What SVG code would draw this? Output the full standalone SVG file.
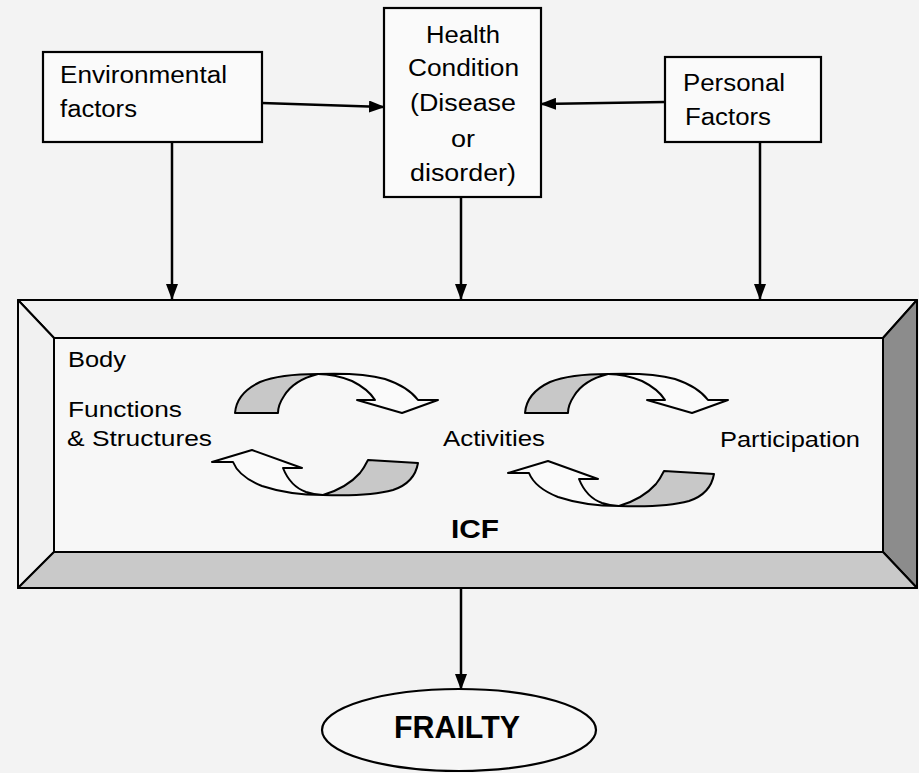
<svg xmlns="http://www.w3.org/2000/svg" width="919" height="773" viewBox="0 0 919 773">
<style>
  .box { fill: #fafafa; stroke: #000; stroke-width: 2.2; }
  .t { font-family: "Liberation Sans", Arial, sans-serif; font-size: 23px; fill: #000; }
  .ti { font-family: "Liberation Sans", Arial, sans-serif; font-size: 21.5px; fill: #000; }
  .tb { font-family: "Liberation Sans", Arial, sans-serif; font-weight: bold; fill: #000; }
  .conn { stroke: #000; stroke-width: 2.5; fill: none; marker-end: url(#ah); }
  .bev { stroke: #000; stroke-width: 2; stroke-linejoin: round; }
  .arw { stroke: #000; stroke-width: 2; stroke-linejoin: round; }
</style>
<defs>
  <marker id="ah" markerUnits="userSpaceOnUse" markerWidth="16" markerHeight="12" refX="15" refY="6" orient="auto">
    <path d="M0,0 L16,6 L0,12 Z" fill="#000"/>
  </marker>
  <g id="topArrow">
    <path class="arw" fill="#fafafa" d="M318,374 C345,373 367,374 385,379 C400,384 412,392 418,400 L438,400 L402,413 L357,400 L375,400 C370,392 362,386 352,381 C342,377 330,374 318,374 Z"/>
    <path class="arw" fill="#c8c8c8" d="M235,413 C236,400 245,389 260,382 C275,376 295,374 318,374 C302,378 290,386 284,396 C280,402 278,408 278,413 Z"/>
  </g>
  <g id="botArrow">
    <path class="arw" fill="#fafafa" d="M323,495 C300,495 280,492 262,486 C247,480 237,472 233,462 L212,462 L252,450 L302,468 L283,468 C287,478 295,488 306,492 C312,494 317,495 323,495 Z"/>
    <path class="arw" fill="#c8c8c8" d="M368,460 L418,463 C416,475 408,485 393,490 C375,495 350,496 323,495 C340,490 352,482 360,473 C364,468 366,464 368,460 Z"/>
  </g>
</defs>
<rect x="0" y="0" width="919" height="773" fill="#f3f3f3"/>

<g id="connectors">
  <line class="conn" x1="262" y1="103" x2="384" y2="107"/>
  <line class="conn" x1="665" y1="102" x2="541" y2="104"/>
  <line class="conn" x1="172" y1="142" x2="172" y2="299"/>
  <line class="conn" x1="461" y1="197" x2="461" y2="299"/>
  <line class="conn" x1="760" y1="142" x2="760" y2="299"/>
  <line class="conn" x1="461" y1="588" x2="461" y2="689"/>
</g>

<g id="env">
  <rect class="box" x="43" y="52" width="219" height="90"/>
  <text class="t" x="60" y="83" textLength="167" lengthAdjust="spacingAndGlyphs">Environmental</text>
  <text class="t" x="60" y="117" textLength="77" lengthAdjust="spacingAndGlyphs">factors</text>
</g>

<g id="health">
  <rect class="box" x="384" y="8" width="157" height="189"/>
  <text class="t" x="426" y="43" textLength="74" lengthAdjust="spacingAndGlyphs">Health</text>
  <text class="t" x="408" y="76" textLength="111" lengthAdjust="spacingAndGlyphs">Condition</text>
  <text class="t" x="410" y="111" textLength="106" lengthAdjust="spacingAndGlyphs">(Disease</text>
  <text class="t" x="451" y="147" textLength="24" lengthAdjust="spacingAndGlyphs">or</text>
  <text class="t" x="410" y="181" textLength="106" lengthAdjust="spacingAndGlyphs">disorder)</text>
</g>

<g id="personal">
  <rect class="box" x="665" y="57" width="156" height="85"/>
  <text class="t" x="683" y="91" textLength="102" lengthAdjust="spacingAndGlyphs">Personal</text>
  <text class="t" x="685" y="125" textLength="86" lengthAdjust="spacingAndGlyphs">Factors</text>
</g>

<g id="icf">
  <polygon class="bev" fill="#f1f1f1" points="18,300 917,300 883,338 54,338"/>
  <polygon class="bev" fill="#f1f1f1" points="18,300 54,338 54,552 18,588"/>
  <polygon class="bev" fill="#8c8c8c" points="917,300 917,588 883,552 883,338"/>
  <polygon class="bev" fill="#c9c9c9" points="18,588 54,552 883,552 917,588"/>
  <rect x="54" y="338" width="829" height="214" fill="#f7f7f7" stroke="#000" stroke-width="2"/>
  <text class="ti" x="68" y="367" textLength="58" lengthAdjust="spacingAndGlyphs">Body</text>
  <text class="ti" x="68" y="417" textLength="114" lengthAdjust="spacingAndGlyphs">Functions</text>
  <text class="ti" x="67" y="446" textLength="145" lengthAdjust="spacingAndGlyphs">&amp; Structures</text>
  <text class="ti" x="443" y="446" textLength="102" lengthAdjust="spacingAndGlyphs">Activities</text>
  <text class="ti" x="720" y="447" textLength="140" lengthAdjust="spacingAndGlyphs">Participation</text>
  <text class="tb" x="451" y="538" font-size="25" textLength="48" lengthAdjust="spacingAndGlyphs">ICF</text>
  <use href="#topArrow"/>
  <use href="#botArrow"/>
  <use href="#topArrow" transform="translate(290,0)"/>
  <use href="#botArrow" transform="translate(296,11)"/>
</g>

<g id="frailty">
  <ellipse cx="459" cy="730" rx="137" ry="41" fill="#f7f7f7" stroke="#000" stroke-width="2.2"/>
  <text class="tb" x="394" y="738" font-size="31" textLength="126" lengthAdjust="spacingAndGlyphs">FRAILTY</text>
</g>
</svg>
